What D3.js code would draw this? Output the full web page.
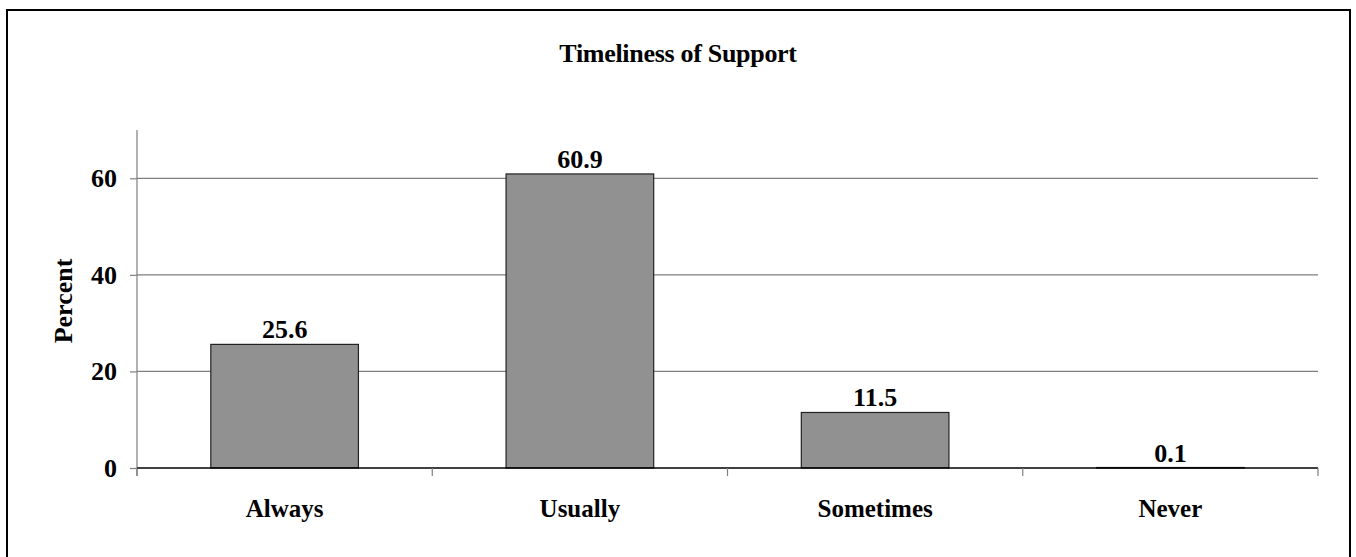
<!DOCTYPE html>
<html>
<head>
<meta charset="utf-8">
<script src="https://cdn.jsdelivr.net/npm/d3@7"></script>
<style>
  body { margin: 0; background: #fff; }
  text { font-family: "Liberation Serif", "Times New Roman", serif; font-weight: bold; fill: #000; }
</style>
</head>
<body>
<svg id="chart"></svg>
<script>
const categories = ["Always", "Usually", "Sometimes", "Never"];
const values = [25.6, 60.9, 11.5, 0.1];
const yTicks = [0, 20, 40, 60];
const title = "Timeliness of Support";
const yTitle = "Percent";

const svg_width = 1356, svg_height = 557;
const margin = { top: 130, right: 38, bottom: 89, left: 137 },
    width = svg_width - margin.left - margin.right,
    height = svg_height - margin.top - margin.bottom;

const root = d3.select("#chart")
    .attr("width", svg_width)
    .attr("height", svg_height);

// outer frame
root.append("rect")
    .attr("x", 7).attr("y", 10)
    .attr("width", 1343).attr("height", 560)
    .attr("fill", "none")
    .attr("stroke", "#000")
    .attr("stroke-width", 2);

root.append("text")
    .attr("x", 678)
    .attr("y", 62)
    .attr("text-anchor", "middle")
    .attr("font-size", 26)
    .attr("letter-spacing", -0.3)
    .text(title);

const svg = root.append("g")
    .attr("transform", `translate(${margin.left},${margin.top})`);

const x = d3.scaleBand().domain(categories).range([0, width]).paddingInner(0.5).paddingOuter(0.25);
const xb = d3.scaleBand().domain(categories).range([0, width]);
const y = d3.scaleLinear().domain([0, 70]).range([height, 0]);

// gridlines
svg.append("g")
    .selectAll("line")
    .data(yTicks.filter(d => d > 0))
    .join("line")
    .attr("x1", 0).attr("x2", width)
    .attr("y1", d => y(d)).attr("y2", d => y(d))
    .attr("stroke", "#7f7f7f")
    .attr("stroke-width", 1.2);

// y axis
const yAxis = svg.append("g")
    .call(d3.axisLeft(y).tickValues(yTicks).tickSize(7).tickPadding(13));
yAxis.select(".domain").attr("stroke", "#7f7f7f").attr("stroke-width", 1.2)
    .attr("d", `M0,${height + 8}V0`);
yAxis.selectAll(".tick line").attr("stroke", "#7f7f7f").attr("stroke-width", 1.2);
yAxis.selectAll(".tick text")
    .attr("font-size", 26)
    .attr("font-family", "Liberation Serif, serif")
    .attr("font-weight", "bold")
    .attr("fill", "#000");

// bars
svg.append("g")
    .selectAll("rect")
    .data(values)
    .join("rect")
    .attr("x", (d, i) => x(categories[i]))
    .attr("y", d => y(d))
    .attr("width", x.bandwidth())
    .attr("height", d => y(0) - y(d))
    .attr("fill", "#919191")
    .attr("stroke", "#222")
    .attr("stroke-width", 1.2);

// x axis: category boundary ticks
const xAxis = svg.append("g")
    .attr("transform", `translate(0,${height})`);
xAxis.append("line")
    .attr("x1", 0).attr("x2", width)
    .attr("stroke", "#000")
    .attr("stroke-width", 1.5);
xAxis.selectAll(".bt")
    .data(categories.map(c => xb(c)).concat([width]))
    .join("line")
    .attr("class", "bt")
    .attr("x1", d => d).attr("x2", d => d)
    .attr("y1", 0).attr("y2", 8)
    .attr("stroke", "#7f7f7f")
    .attr("stroke-width", 1.2);
xAxis.selectAll("text")
    .data(categories)
    .join("text")
    .attr("x", d => xb(d) + xb.bandwidth() / 2)
    .attr("y", 49)
    .attr("text-anchor", "middle")
    .attr("font-size", 25)
    .text(d => d);

// value labels
svg.append("g")
    .selectAll("text")
    .data(values)
    .join("text")
    .attr("x", (d, i) => x(categories[i]) + x.bandwidth() / 2)
    .attr("y", d => y(d) - 6)
    .attr("text-anchor", "middle")
    .attr("font-size", 26)
    .text(d => d.toFixed(1));

// y title
root.append("text")
    .attr("transform", `translate(72,${margin.top + height / 2 + 2}) rotate(-90)`)
    .attr("text-anchor", "middle")
    .attr("font-size", 26)
    .text(yTitle);
</script>
</body>
</html>
